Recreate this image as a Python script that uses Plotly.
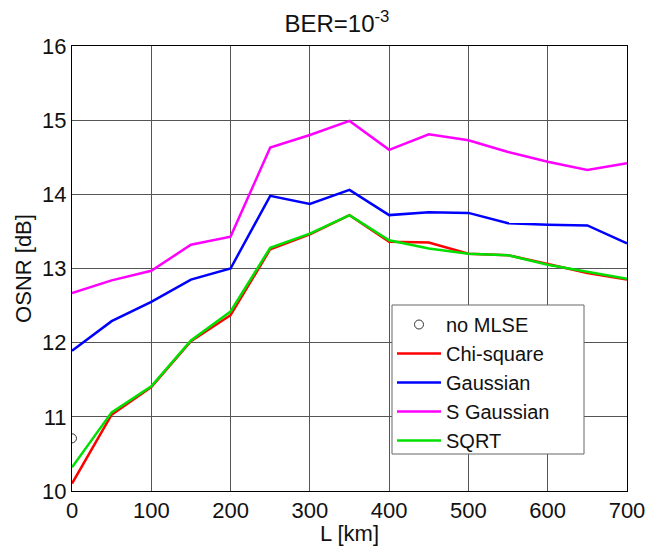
import plotly.graph_objects as go

L_km = [0, 50, 100, 150, 200, 250, 300, 350, 400, 450, 500, 550, 600, 650, 700]
chi_square = [10.10, 11.03, 11.40, 12.02, 12.37, 13.26, 13.46, 13.72, 13.36, 13.35, 13.20, 13.18, 13.06, 12.94, 12.85]
gaussian = [11.89, 12.29, 12.55, 12.85, 13.00, 13.98, 13.87, 14.06, 13.72, 13.76, 13.75, 13.61, 13.59, 13.58, 13.34]
s_gaussian = [12.67, 12.84, 12.97, 13.32, 13.43, 14.63, 14.80, 14.99, 14.60, 14.81, 14.73, 14.57, 14.44, 14.33, 14.42]
sqrt_vals = [10.32, 11.06, 11.41, 12.03, 12.42, 13.28, 13.47, 13.72, 13.38, 13.27, 13.20, 13.18, 13.05, 12.96, 12.86]
no_mlse_L = [0]
no_mlse = [10.71]
x_ticks = [0, 100, 200, 300, 400, 500, 600, 700]
y_ticks = [10, 11, 12, 13, 14, 15, 16]

font = "Liberation Sans, Arial, sans-serif"

fig = go.Figure()
fig.add_trace(go.Scatter(x=no_mlse_L, y=no_mlse, mode="markers", name="no MLSE",
                         marker=dict(symbol="circle-open", size=9, color="#333333", line=dict(width=1))))
fig.add_trace(go.Scatter(x=L_km, y=chi_square, mode="lines", name="Chi-square",
                         line=dict(color="#ff0000", width=2.5)))
fig.add_trace(go.Scatter(x=L_km, y=gaussian, mode="lines", name="Gaussian",
                         line=dict(color="#0000ff", width=2.5)))
fig.add_trace(go.Scatter(x=L_km, y=s_gaussian, mode="lines", name="S Gaussian",
                         line=dict(color="#ff00ff", width=2.5)))
fig.add_trace(go.Scatter(x=L_km, y=sqrt_vals, mode="lines", name="SQRT",
                         line=dict(color="#00e000", width=2.5)))

# legend frame (box behind the legend entries)
leg_x0, leg_x1 = (392 - 72) / 555, (584 - 72) / 555
leg_y0, leg_y1 = (491 - 454) / 445, (491 - 305) / 445
fig.add_shape(type="rect", xref="paper", yref="paper", x0=leg_x0, x1=leg_x1, y0=leg_y0, y1=leg_y1,
              fillcolor="white", line=dict(color="#666666", width=1), layer="above")

fig.update_layout(
    width=648, height=546,
    margin=dict(l=72, r=21, t=46, b=55),
    paper_bgcolor="white", plot_bgcolor="white",
    font=dict(family=font, size=22, color="#111111"),
    title=dict(text="BER=10<sup>-3</sup>", x=0.52, xanchor="center", y=1 - 24 / 546, yanchor="middle",
               font=dict(size=24)),
    xaxis=dict(range=[0, 700], tickvals=x_ticks, automargin=False,
               showgrid=True, gridcolor="#555555", gridwidth=1,
               showline=True, linecolor="black", linewidth=1, mirror=True,
               ticks="", zeroline=False, tickfont=dict(size=22),
               title=dict(text="L [km]", standoff=0, font=dict(size=22))),
    yaxis=dict(range=[10, 16], tickvals=y_ticks, automargin=False,
               showgrid=True, gridcolor="#555555", gridwidth=1,
               showline=True, linecolor="black", linewidth=1, mirror=True,
               ticks="", zeroline=False, tickfont=dict(size=22),
               title=dict(text="OSNR [dB]", standoff=4, font=dict(size=22))),
    legend=dict(x=leg_x0, y=leg_y1, xanchor="left", yanchor="top",
                bgcolor="rgba(0,0,0,0)", borderwidth=0,
                font=dict(size=20), tracegroupgap=0, itemwidth=44),
    showlegend=True,
)

fig.write_html("out.html", post_script="document.body.style.margin='0';",
               config={"displayModeBar": False})
